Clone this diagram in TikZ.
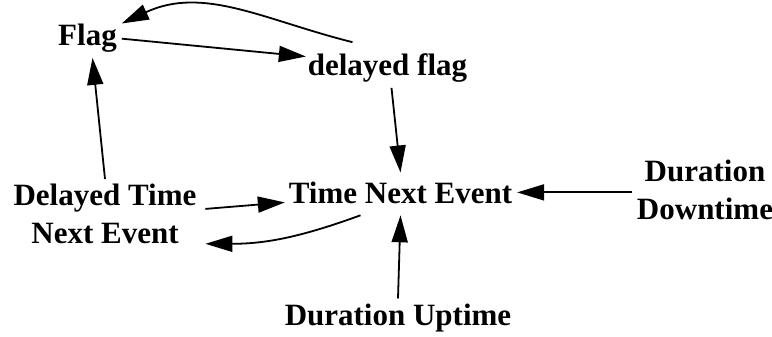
\documentclass[tikz,border=0pt]{standalone}
\usepackage{fontspec}
\setmainfont{Liberation Serif}
\usetikzlibrary{arrows.meta}

\begin{document}
\begin{tikzpicture}[x=1pt, y=1pt,
	var/.style={font=\fontsize{31}{38}\selectfont\bfseries, inner sep=0pt, outer sep=5pt, align=center},
	link/.style={-{Triangle[length=27pt,width=16pt]}, line width=1.8pt}]
	\useasboundingbox (0,0) rectangle (772,-337);
	
	\node[var, anchor=base] (flag) at (87.5,-46) {Flag};
	\node[var, anchor=base] (dflag) at (387.5,-76) {delayed flag};
	\node[var, anchor=base] (tne) at (400.5,-203) {Time Next Event};
	\node[var, anchor=north] (dtne) at (105,-179) {Delayed Time\\Next Event};
	\node[var, anchor=north] (dd) at (705,-154.5) {Duration\\Downtime};
	\node[var, anchor=base] (dup) at (398,-325) {Duration Uptime};
	
	\draw[link] (flag.east) -- ([xshift=3,yshift=12]dflag.west);
	\draw[link] ([xshift=-35,yshift=7]dflag.north) to[out=166, in=25] ([yshift=-4]flag.north east);
	\draw[link] ([xshift=4]dflag.south) -- ([yshift=4]tne.north);
	\draw[link] (dtne.north) -- ([xshift=5]flag.south);
	\draw[link] ([xshift=4,yshift=5]dtne.east) -- ([xshift=1,yshift=-10]tne.west);
	\draw[link] ([xshift=-40,yshift=-7]tne.south) to[out=200, in=0] ([xshift=4,yshift=5]dtne.south east);
	\draw[link] (dd.west |- tne.east) -- (tne.east);
	\draw[link] (dup.north) -- ([yshift=-7]tne.south);
\end{tikzpicture}
\end{document}
